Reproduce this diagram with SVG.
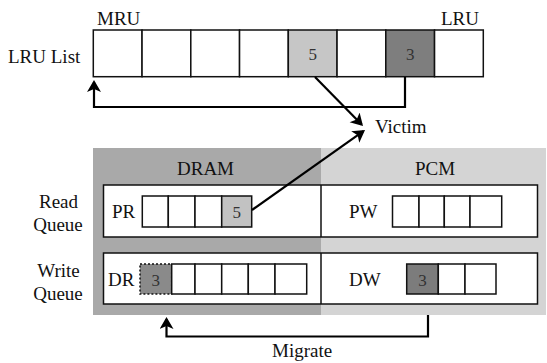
<svg xmlns="http://www.w3.org/2000/svg" width="547" height="363" viewBox="0 0 547 363" font-family="'Liberation Serif', 'Times New Roman', Times, 'DejaVu Serif', serif">
<style>
text{font-family:'Liberation Serif','Times New Roman',Times,'DejaVu Serif',serif;fill:#111;}
.lbl{font-size:19px;}
.num{font-size:17px;fill:#333;text-anchor:middle;}
.mid{text-anchor:middle;}
.cell{fill:#fff;stroke:#111;stroke-width:1.5;}
.box{fill:#fff;stroke:#111;stroke-width:1.5;}
.conn{fill:none;stroke:#000;stroke-width:2.2;}
</style>
<defs>
<marker id="ah" markerUnits="userSpaceOnUse" markerWidth="16" markerHeight="16" refX="10" refY="7" orient="auto">
<path d="M0,0 L12,7 L0,14 L3,7 z" fill="#000"/>
</marker>
</defs>
<rect width="547" height="363" fill="#fff"/>

<g id="lru-list">
<text class="lbl" x="97" y="25">MRU</text>
<text class="lbl" x="441" y="25">LRU</text>
<text class="lbl" x="8" y="63">LRU List</text>
<rect class="cell" x="93.3" y="30" width="48.75" height="46.7"/>
<rect class="cell" x="142.05" y="30" width="48.75" height="46.7"/>
<rect class="cell" x="190.8" y="30" width="48.75" height="46.7"/>
<rect class="cell" x="239.55" y="30" width="48.75" height="46.7"/>
<rect class="cell" x="288.3" y="30" width="48.75" height="46.7" style="fill:#c6c6c6"/>
<rect class="cell" x="337.05" y="30" width="48.75" height="46.7"/>
<rect class="cell" x="385.8" y="30" width="48.75" height="46.7" style="fill:#7e7e7e"/>
<rect class="cell" x="434.55" y="30" width="48.75" height="46.7"/>
<text class="num" x="312.7" y="59.5">5</text>
<text class="num" x="410.2" y="59.5">3</text>
</g>

<g id="victim">
<text class="lbl" x="375" y="133">Victim</text>
</g>

<g id="dram">
<rect x="93" y="148" width="228" height="167" fill="#a9a9a9"/>
<text class="lbl mid" x="205.5" y="175">DRAM</text>
</g>
<g id="pcm">
<rect x="321" y="148" width="225" height="167" fill="#d4d4d4"/>
<text class="lbl mid" x="435" y="175">PCM</text>
</g>

<g id="read-queue">
<text class="lbl mid" x="58.5" y="208">Read</text>
<text class="lbl mid" x="58" y="231">Queue</text>
<rect class="box" x="103.5" y="185" width="434" height="52"/>
<line x1="321" y1="185" x2="321" y2="237" stroke="#111" stroke-width="1.5"/>
<text class="lbl" x="112" y="218">PR</text>
<rect class="cell" x="142.3" y="196" width="26" height="31"/>
<rect class="cell" x="168.3" y="196" width="26.7" height="31"/>
<rect class="cell" x="195" y="196" width="26.7" height="31"/>
<rect class="cell" x="221.7" y="196" width="30" height="31" style="fill:#c2c2c2"/>
<text class="num" x="236.7" y="217.5">5</text>
<text class="lbl" x="349" y="218">PW</text>
<rect class="cell" x="392.5" y="196" width="26.5" height="31"/>
<rect class="cell" x="419" y="196" width="25.3" height="31"/>
<rect class="cell" x="444.3" y="196" width="25.7" height="31"/>
<rect class="cell" x="470" y="196" width="31.7" height="31"/>
</g>

<g id="write-queue">
<text class="lbl mid" x="58.5" y="277">Write</text>
<text class="lbl mid" x="58" y="300">Queue</text>
<rect class="box" x="103.5" y="253" width="434" height="51"/>
<line x1="321" y1="253" x2="321" y2="304" stroke="#111" stroke-width="1.5"/>
<text class="lbl" x="108" y="285.5">DR</text>
<rect x="140" y="264" width="31.7" height="30" fill="#8a8a8a" stroke="#111" stroke-width="1.5" stroke-dasharray="2,2"/>
<text class="num" x="155.8" y="285.5">3</text>
<rect class="cell" x="171.7" y="264" width="23.3" height="30"/>
<rect class="cell" x="195" y="264" width="26.7" height="30"/>
<rect class="cell" x="221.7" y="264" width="26.6" height="30"/>
<rect class="cell" x="248.3" y="264" width="26.7" height="30"/>
<rect class="cell" x="275" y="264" width="31.7" height="30"/>
<text class="lbl" x="349" y="285.5">DW</text>
<rect class="cell" x="406.7" y="264" width="31.6" height="30" style="fill:#7c7c7c"/>
<text class="num" x="422.5" y="285.5">3</text>
<rect class="cell" x="438.3" y="264" width="26.7" height="30"/>
<rect class="cell" x="465" y="264" width="31" height="30"/>
</g>

<g id="migrate">
<text class="lbl" x="272" y="357">Migrate</text>
</g>

<g id="connectors">
<path class="conn" d="M405,77 V107 H94 V82" marker-end="url(#ah)"/>
<path class="conn" d="M315,77 L361.6,124.6" marker-end="url(#ah)"/>
<path class="conn" d="M252,210 L363.4,131.2" marker-end="url(#ah)"/>
<path class="conn" d="M428,315 V336.5 H166.5 V319" marker-end="url(#ah)"/>
</g>
</svg>
